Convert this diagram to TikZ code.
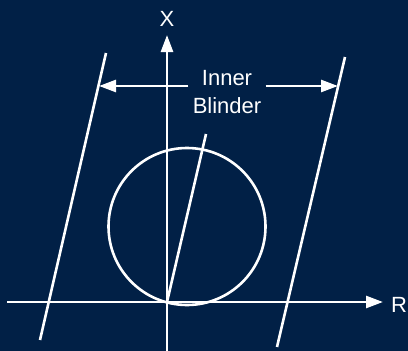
\documentclass[tikz,border=0pt]{standalone}
\usepackage{fontspec}
\setmainfont{Liberation Sans}
\usetikzlibrary{arrows.meta}
\definecolor{navy}{RGB}{1,32,70}
\begin{document}
\begin{tikzpicture}[x=1pt, y=-1pt, line width=2.6pt, draw=white,
        arr/.style = {-{Triangle[length=17pt, width=12pt]}}]
            \fill[navy] (0,0) rectangle (408,351);
            \useasboundingbox (0,0) rectangle (408,351);
            {
                \tikzset{every node/.style = {text=white, inner sep=3pt, font=\fontsize{22}{28}\selectfont}}

                \node (x) at (167, 19) {X};
                \node (r) at (399, 305) {R};
                \node[align=center] (blinder) at (227, 92) {Inner\\Blinder};
            }

            % axes and blinder lines
            \coordinate (o) at (167, 302);
            \coordinate (xtop) at (167, 35);
            \coordinate (xbot) at (167, 351);
            \coordinate (rleft) at (7, 302);
            \coordinate (rright) at (383, 302);
            \coordinate (lbt) at (106, 53);
            \coordinate (lbb) at (40, 340);
            \coordinate (rbt) at (345, 57);
            \coordinate (rbb) at (277, 347);
            \coordinate (la) at (99, 86);
            \coordinate (ra) at (338, 86);
            \coordinate (ztop) at (206, 134);

            \draw[arr] (xbot) -- (xtop);
            \draw[arr] (rleft) -- (rright);
            \draw (lbb) -- (lbt);
            \draw (rbb) -- (rbt);

            % mho circle and line impedance
            \draw (187, 226.5) circle (78.5);
            \draw (o) -- (ztop);

            % blinder width arrows
            \draw[arr] (blinder.west |- la) -- (la);
            \draw[arr] (blinder.east |- ra) -- (ra);

        \end{tikzpicture}
\end{document}
